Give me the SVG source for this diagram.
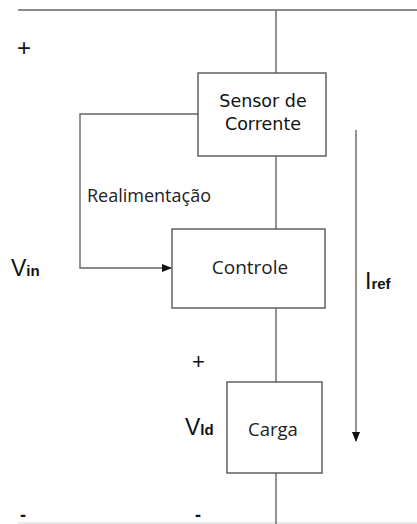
<svg xmlns="http://www.w3.org/2000/svg" width="417" height="524" viewBox="0 0 417 524">
<style>
.box{fill:#fff;stroke:#555;stroke-width:1.4}
.w{fill:none;stroke:#666;stroke-width:1.4}
.t{font-family:"Open Sans","Liberation Sans",sans-serif;fill:#222}
.d{font-family:"DejaVu Sans",sans-serif;fill:#111}
.s{font-family:"Liberation Sans",sans-serif;fill:#111}
</style>
<defs>
<marker id="ah" markerWidth="10" markerHeight="8" refX="9" refY="4" orient="auto" markerUnits="userSpaceOnUse">
<path d="M0,0 L10,4 L0,8 Z" fill="#111"/>
</marker>
</defs>
<rect width="417" height="524" fill="#fff"/>
<g id="connectors">
<line class="w" x1="18" y1="10" x2="417" y2="10"/>
<line x1="18" y1="523" x2="417" y2="523" stroke="#e2e2e2" stroke-width="1.4"/>
<line class="w" x1="276" y1="10" x2="276" y2="73"/>
<line class="w" x1="276" y1="156" x2="276" y2="229"/>
<line class="w" x1="276" y1="308" x2="276" y2="382"/>
<line class="w" x1="276" y1="473" x2="276" y2="524"/>
<polyline class="w" points="198,114 80,114 80,268 171,268" stroke="#444" marker-end="url(#ah)"/>
<line class="w" x1="356" y1="130" x2="356" y2="441" stroke="#444" marker-end="url(#ah)"/>
</g>
<g id="sensor">
<rect class="box" x="198" y="73" width="128" height="83"/>
<text class="d" x="263" y="107" font-size="17.5" text-anchor="middle">Sensor de</text>
<text class="d" x="263" y="130" font-size="17.5" text-anchor="middle">Corrente</text>
</g>
<g id="controle">
<rect class="box" x="172" y="229" width="153" height="79"/>
<text class="t" x="250" y="274" font-size="19" text-anchor="middle">Controle</text>
</g>
<g id="carga">
<rect class="box" x="227" y="382" width="95" height="91"/>
<text class="t" x="273" y="436" font-size="18.5" text-anchor="middle">Carga</text>
</g>
<g id="labels">
<text class="t" x="87" y="202" font-size="18">Realimentação</text>
<text class="s" x="17" y="56" font-size="24">+</text>
<text class="s" x="192" y="369" font-size="22">+</text>
<text class="s" x="20" y="521" font-size="18" font-weight="bold">-</text>
<text class="s" x="195" y="521" font-size="18" font-weight="bold">-</text>
<text class="s" x="11" y="276" font-size="23">V<tspan font-size="15" font-weight="bold">in</tspan></text>
<text class="s" x="365" y="289" font-size="23">I<tspan font-size="15" font-weight="bold">ref</tspan></text>
<text class="s" x="185" y="435" font-size="23">V<tspan font-size="15" font-weight="bold">ld</tspan></text>
</g>
</svg>
